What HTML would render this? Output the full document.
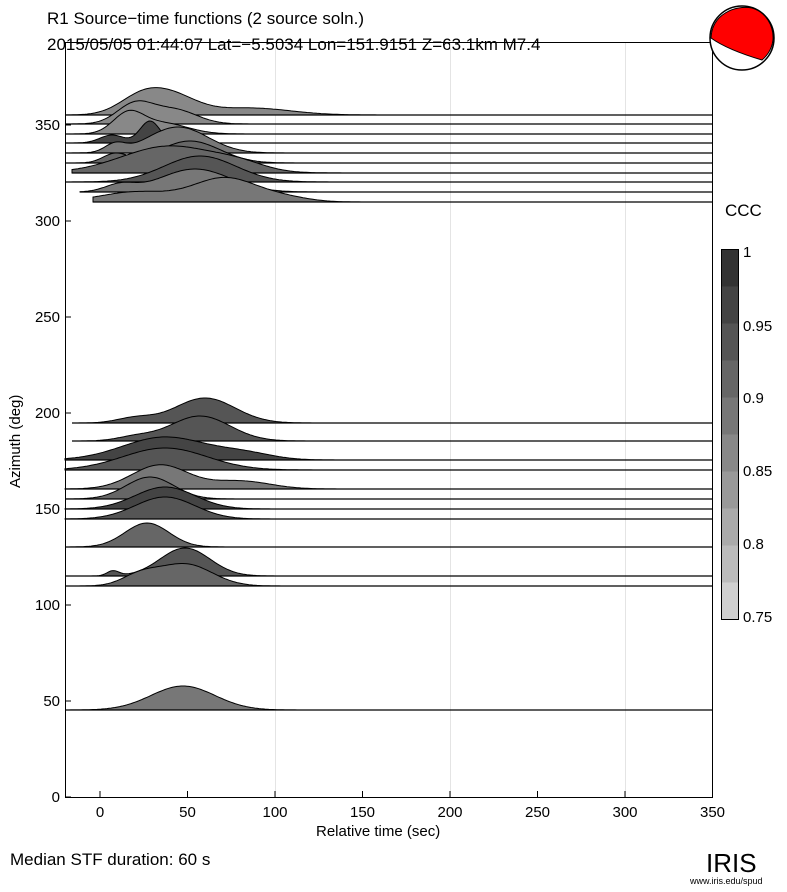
<!DOCTYPE html>
<html><head><meta charset="utf-8">
<style>
body{margin:0;background:#fff;}
svg text{font-family:"Liberation Sans",sans-serif;}
</style></head>
<body>
<svg id="s" width="787" height="887" xmlns="http://www.w3.org/2000/svg">
<rect width="787" height="887" fill="#fff"/>
<text x="47" y="24" font-size="17">R1 Source−time functions (2 source soln.)</text>
<text x="47" y="50" font-size="17">2015/05/05 01:44:07  Lat=−5.5034 Lon=151.9151  Z=63.1km  M7.4</text>
<g stroke="#e4e4e4" stroke-width="1">
<line x1="275.5" y1="42" x2="275.5" y2="797"/><line x1="450.5" y1="42" x2="450.5" y2="797"/><line x1="625.5" y1="42" x2="625.5" y2="797"/>
</g>
<g id="tr"></g>
<rect x="65.5" y="42.5" width="647" height="755" fill="none" stroke="#000"/>
<g id="ax" font-size="15"></g>
<text x="316" y="836" font-size="15">Relative time (sec)</text>
<text transform="translate(20,488) rotate(-90)" font-size="15">Azimuth (deg)</text>
<text x="10" y="865" font-size="17">Median STF duration: 60 s</text>
<text x="725" y="216" font-size="17">CCC</text>
<g id="cb"></g>
<rect x="721.5" y="249.5" width="17" height="370" fill="none" stroke="#000"/>
<g font-size="15">
<text x="743" y="257">1</text><text x="743" y="331">0.95</text><text x="743" y="403">0.9</text>
<text x="743" y="476">0.85</text><text x="743" y="549">0.8</text><text x="743" y="622">0.75</text>
</g>
<circle cx="742" cy="38" r="32" fill="#fff" stroke="#000" stroke-width="1.5"/>
<path d="M711,38 C712,14 735,5 752,8 C766,12 774,26 773,40 C772,48 768,55 762,60 C745,55 725,48 711,38 Z" fill="#f00" stroke="#000"/>
<text x="706" y="872" font-size="26" font-family="Liberation Serif,serif">IRIS</text>
<text x="690" y="884" font-size="9">www.iris.edu/spud</text>
</svg>
<script>
const N="http://www.w3.org/2000/svg";
function el(t,a,p){const e=document.createElementNS(N,t);for(const k in a)e.setAttribute(k,a[k]);p.appendChild(e);return e;}
const T=[
[115,65,"#888",[[140,22,16],[172,25,18],[250,40,7]]],
[124,65,"#888",[[135,18,20],[175,22,14]]],
[134,65,"#888",[[128,15,19],[162,25,11]]],
[143,65,"#444",[[112,12,8],[150,10,22]]],
[153,65,"#777",[[115,10,8],[178,30,26]]],
[163,65,"#666",[[115,12,9],[190,30,22]]],
[173,72,"#666",[[170,48,27],[240,25,6]]],
[182,65,"#555",[[200,36,26]]],
[192,80,"#777",[[120,15,7],[195,35,23]]],
[202,93,"#777",[[135,35,10],[225,32,24],[285,25,4]]],
[423,72,"#555",[[135,18,5],[205,30,25]]],
[441,72,"#555",[[135,18,4],[200,30,25]]],
[460,65,"#444",[[165,42,23],[245,28,6]]],
[470,65,"#555",[[165,42,22]]],
[489,65,"#777",[[160,28,24],[240,30,8]]],
[499,65,"#666",[[150,24,22]]],
[509,65,"#444",[[165,30,22]]],
[519,65,"#555",[[165,30,22]]],
[547,65,"#666",[[147,22,24]]],
[576,65,"#555",[[113,6,5],[185,25,28]]],
[586,65,"#666",[[140,18,10],[185,27,22]]],
[710,65,"#777",[[183,32,24]]]];
const g=document.getElementById("tr");
for(const [y,x0,c,b] of T){let d="M"+x0+","+y;
for(let x=x0;x<=712;x+=2){let h=0;for(const [m,s,a] of b)h+=a*Math.exp(-((x-m)**2)/(2*s*s));d+=" L"+x+","+(y-h).toFixed(1);}
el("path",{d:d+" L712,"+y+" Z",fill:c,stroke:"#000","stroke-width":1},g);
el("line",{x1:x0,y1:y,x2:712,y2:y,stroke:"#000","stroke-width":1.3},g);}
const ax=document.getElementById("ax");
for(let v=0;v<=350;v+=50){const x=100+v*1.75;el("line",{x1:x,y1:797,x2:x,y2:791,stroke:"#000"},ax);const t=el("text",{x:x,y:817,"text-anchor":"middle"},ax);t.textContent=v;}
for(let v=0;v<=350;v+=50){const y=797-v*1.92;el("line",{x1:65,y1:y,x2:71,y2:y,stroke:"#000"},ax);const t=el("text",{x:60,y:y+5,"text-anchor":"end"},ax);t.textContent=v;}
const cb=document.getElementById("cb");
const cols=["#333","#444","#555","#666","#777","#888","#999","#aaa","#bbb","#d0d0d0"];
for(let i=0;i<10;i++)el("rect",{x:721.5,y:249.5+i*37,width:17,height:37,fill:cols[i]},cb);
</script>
</body></html>
